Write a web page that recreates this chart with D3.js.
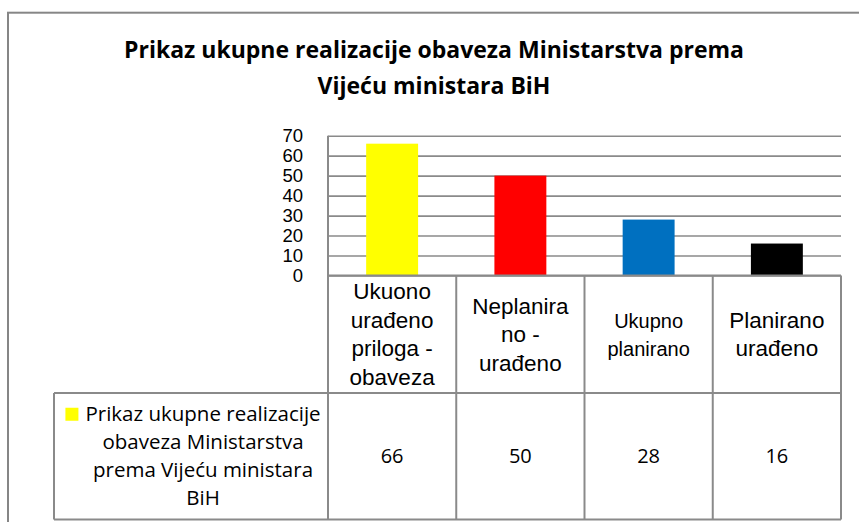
<!DOCTYPE html>
<html>
<head>
<meta charset="utf-8">
<script src="https://cdn.jsdelivr.net/npm/d3@7"></script>
<style>
  body { margin: 0; background: #fff; }
  .grid line { stroke: #8a8a8a; stroke-width: 1.6; }
  .grid .domain { display: none; }
  .y-axis .domain { display: none; }
  .y-axis text { font-family: "Liberation Sans", Arial, sans-serif; font-size: 18.5px; fill: #000; }
  .tbl { stroke: #8a8a8a; stroke-width: 2; fill: none; }
</style>
</head>
<body>
<div id="chart"></div>
<script>
// Chart data
const titleLines = ["Prikaz ukupne realizacije obaveza Ministarstva prema", "Vijeću ministara BiH"];
const categories = ["Ukuono\nurađeno\npriloga -\nobaveza", "Neplanira\nno -\nurađeno", "Ukupno\nplanirano", "Planirano\nurađeno"];
const seriesName = ["Prikaz ukupne realizacije", "obaveza Ministarstva", "prema Vijeću ministara", "BiH"];
const values = [66, 50, 28, 16];
const yTicks = [0, 10, 20, 30, 40, 50, 60, 70];

// Styling
const barColors = ["#ffff00", "#ff0000", "#0070c0", "#000000"];
const headerFontSize = [22.5, 22.5, 20, 22.5];

const config = {
  containerWidth: 859,
  containerHeight: 522,
  margin: { top: 135.7, left: 328, right: 18 },
  plotHeight: 139.8,
  headerHeight: 117.5,
  rowHeight: 126.5,
  legendLeft: 54
};

const width = config.containerWidth - config.margin.left - config.margin.right;
const height = config.plotHeight;

const svg = d3.select("#chart").append("svg")
  .attr("width", config.containerWidth)
  .attr("height", config.containerHeight);

// Outer chart frame
svg.append("rect")
  .attr("x", 8).attr("y", 12.7)
  .attr("width", 900).attr("height", 600)
  .attr("fill", "none")
  .attr("stroke", "#868686")
  .attr("stroke-width", 2);

// Title
svg.append("text")
  .attr("x", 434)
  .attr("text-anchor", "middle")
  .attr("font-family", "'Open Sans', sans-serif")
  .attr("font-weight", 700)
  .attr("font-size", 23)
  .selectAll("tspan")
  .data(titleLines)
  .join("tspan")
  .attr("x", 434)
  .attr("y", (d, i) => 58 + i * 36)
  .text(d => d);

const chartArea = svg.append("g")
  .attr("transform", `translate(${config.margin.left},${config.margin.top})`);

// Scales
const xScale = d3.scaleBand()
  .domain(categories)
  .range([0, width])
  .paddingInner(0.595)
  .paddingOuter(0.2975);

const yScale = d3.scaleLinear()
  .domain([0, d3.max(yTicks)])
  .range([height, 0]);

// Gridlines
chartArea.append("g")
  .attr("class", "grid")
  .call(d3.axisLeft(yScale).tickValues(yTicks).tickSize(-width).tickFormat(""));

// Y axis labels
chartArea.append("g")
  .attr("class", "y-axis")
  .call(d3.axisLeft(yScale).tickValues(yTicks).tickSize(0).tickPadding(25));

// Bars
chartArea.selectAll(".bar")
  .data(values)
  .join("rect")
  .attr("class", "bar")
  .attr("x", (d, i) => xScale(categories[i]))
  .attr("width", xScale.bandwidth())
  .attr("y", d => yScale(d))
  .attr("height", d => height - yScale(d))
  .attr("fill", (d, i) => barColors[i]);

// Data table
const step = xScale.step();
const colLeft = c => xScale(c) - (step - xScale.bandwidth()) / 2;
const colCenter = c => xScale(c) + xScale.bandwidth() / 2;
const headTop = height;
const rowTop = headTop + config.headerHeight;
const rowBottom = rowTop + config.rowHeight;
const legendX = config.legendLeft - config.margin.left;

const table = chartArea.append("g");

// horizontal borders
table.append("line").attr("class", "tbl")
  .attr("x1", 0).attr("x2", width).attr("y1", headTop).attr("y2", headTop);
table.append("line").attr("class", "tbl")
  .attr("x1", legendX).attr("x2", width).attr("y1", rowTop).attr("y2", rowTop);
table.append("line").attr("class", "tbl")
  .attr("x1", legendX).attr("x2", width).attr("y1", rowBottom).attr("y2", rowBottom);

// vertical borders
table.append("line").attr("class", "tbl")
  .attr("x1", 0).attr("x2", 0).attr("y1", 0).attr("y2", rowBottom);
table.append("line").attr("class", "tbl")
  .attr("x1", legendX).attr("x2", legendX).attr("y1", rowTop).attr("y2", rowBottom);
table.selectAll(".col-line")
  .data(categories)
  .join("line")
  .attr("class", "tbl col-line")
  .attr("x1", c => colLeft(c) + step).attr("x2", c => colLeft(c) + step)
  .attr("y1", headTop).attr("y2", rowBottom);

// header category labels
const headMid = headTop + config.headerHeight / 2;
table.selectAll(".cat")
  .data(categories)
  .join("text")
  .attr("class", "cat")
  .attr("text-anchor", "middle")
  .attr("font-family", "'Liberation Sans', Arial, sans-serif")
  .attr("font-size", (d, i) => headerFontSize[i])
  .each(function (c) {
    const lines = c.split("\n");
    d3.select(this).selectAll("tspan")
      .data(lines)
      .join("tspan")
      .attr("x", colCenter(c))
      .attr("y", (d, i) => headMid + (i - (lines.length - 1) / 2) * 28.5 + 8)
      .text(d => d);
  });

// values row
const rowMid = rowTop + config.rowHeight / 2;
table.selectAll(".val")
  .data(values)
  .join("text")
  .attr("class", "val")
  .attr("x", (d, i) => colCenter(categories[i]))
  .attr("y", rowMid + 7)
  .attr("text-anchor", "middle")
  .attr("font-family", "'Open Sans', sans-serif")
  .attr("font-size", 20)
  .text(d => d);

// legend cell with series name
const legendCenter = legendX + (0 - legendX) / 2 + 12;
const legendText = table.append("text")
  .attr("text-anchor", "middle")
  .attr("font-family", "'Open Sans', sans-serif")
  .attr("font-size", 20.5);
legendText.selectAll("tspan")
  .data(seriesName)
  .join("tspan")
  .attr("x", legendCenter)
  .attr("y", (d, i) => rowMid + (i - (seriesName.length - 1) / 2) * 28 + 7)
  .text(d => d);

const firstLen = legendText.select("tspan").node().getComputedTextLength();
table.append("rect")
  .attr("x", legendCenter - firstLen / 2 - 20)
  .attr("y", rowMid - 42 - 6.5)
  .attr("width", 13)
  .attr("height", 13)
  .attr("fill", barColors[0]);
</script>
</body>
</html>
